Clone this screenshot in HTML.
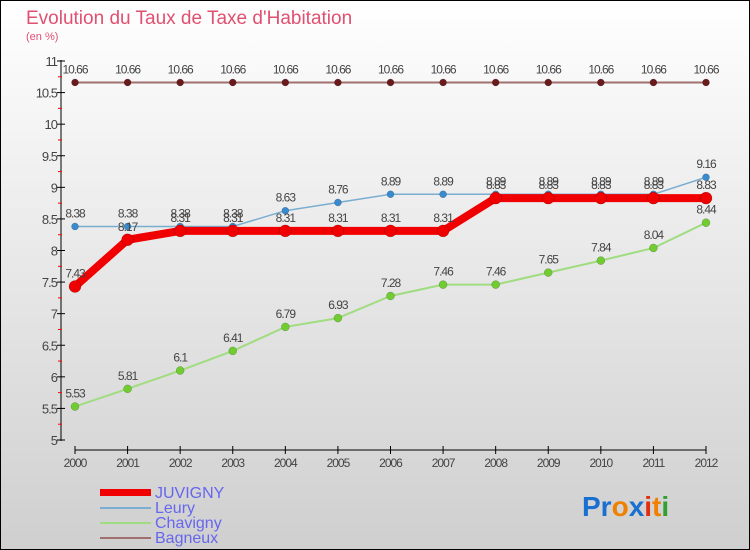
<!DOCTYPE html>
<html><head><meta charset="utf-8"><style>
body{margin:0}
#c{width:750px;height:550px;position:relative;overflow:hidden}
</style></head><body>
<div id="c">
<svg id="s" width="750" height="550" font-family="'Liberation Sans', sans-serif">
<defs><linearGradient id="bg" x1="0" y1="0" x2="0" y2="1"><stop offset="0" stop-color="#ffffff"/><stop offset="1" stop-color="#cfcfcf"/></linearGradient></defs>
<rect x="0.5" y="0.5" width="749" height="549" fill="url(#bg)" stroke="#000"/>
<text x="26" y="24" font-size="19" fill="#e05070">Evolution du Taux de Taxe d'Habitation</text>
<text x="26" y="40" font-size="11" fill="#e05070">(en %)</text>
<g id="axes"></g><g id="series"></g>
<g>
<rect x="100" y="489" width="51" height="7" fill="#f00000"/>
<text x="155" y="498" font-size="16" fill="#6666ee">JUVIGNY</text>
<rect x="100" y="507" width="51" height="2" fill="#7aaed0"/>
<text x="155" y="513" font-size="16" fill="#6666ee">Leury</text>
<rect x="100" y="522" width="51" height="2" fill="#a0dc80"/>
<text x="155" y="528" font-size="16" fill="#6666ee">Chavigny</text>
<rect x="100" y="537" width="51" height="2" fill="#a07070"/>
<text x="155" y="543" font-size="16" fill="#6666ee">Bagneux</text>
</g>
<text x="582" y="516" font-size="28" font-weight="bold"><tspan fill="#1a70d0">Pr</tspan><tspan fill="#f08000">o</tspan><tspan fill="#1a70d0">x</tspan><tspan fill="#e03010">i</tspan><tspan fill="#f08000">t</tspan><tspan fill="#30a030">i</tspan></text>
</svg></div>
<script>
const years=[2000,2001,2002,2003,2004,2005,2006,2007,2008,2009,2010,2011,2012];
const yTicks=[5,5.5,6,6.5,7,7.5,8,8.5,9,9.5,10,10.5,11];
const juvigny=[7.43,8.17,8.31,8.31,8.31,8.31,8.31,8.31,8.83,8.83,8.83,8.83,8.83];
const leury=[8.38,8.38,8.38,8.38,8.63,8.76,8.89,8.89,8.89,8.89,8.89,8.89,9.16];
const chavigny=[5.53,5.81,6.1,6.41,6.79,6.93,7.28,7.46,7.46,7.65,7.84,8.04,8.44];
const bagneux=[10.66,10.66,10.66,10.66,10.66,10.66,10.66,10.66,10.66,10.66,10.66,10.66,10.66];
const NS="http://www.w3.org/2000/svg";
const x=i=>75+i*(706-75)/(years.length-1);
const y=v=>440-(v-5)*(440-61)/6;
function mk(t,a,p){const e=document.createElementNS(NS,t);for(const k in a)e.setAttribute(k,a[k]);p.appendChild(e);return e;}
const ax=document.getElementById('axes');
let e=mk('line',{x1:61,y1:60,x2:61,y2:441,stroke:'#000'},ax);


e=mk('line',{x1:75,y1:450,x2:706,y2:450,stroke:'#000'},ax);


yTicks.forEach((v,i)=>{
  mk('line',{x1:57,y1:y(v),x2:65,y2:y(v),stroke:'#000'},ax);
  if(i<yTicks.length-1) mk('line',{x1:58,y1:y(v+0.25),x2:62,y2:y(v+0.25),stroke:'#f00'},ax);
  const t=mk('text',{x:57,y:y(v)+5,'text-anchor':'end','font-size':13,fill:'#444','letter-spacing':'-1'},ax);
  t.textContent=String(v);
  
  
});
years.forEach((yr,i)=>{
  mk('line',{x1:x(i),y1:446,x2:x(i),y2:454,stroke:'#000'},ax);
  const t=mk('text',{x:x(i),y:467,'text-anchor':'middle','font-size':12,fill:'#444','letter-spacing':'-1'},ax);
  t.textContent=yr;
  
  
});
const sg=document.getElementById('series');
function series(vals,name,color,w,r,dot,fontSize){
  const g=mk('g',{},sg);
  
  
  mk('polyline',{points:vals.map((v,i)=>x(i)+','+y(v)).join(' '),fill:'none',stroke:color,'stroke-width':w,'stroke-linejoin':'round'},g);
  vals.forEach((v,i)=>{
    const c=mk('circle',{cx:x(i),cy:y(v),r:r,fill:dot,stroke:'rgba(0,0,0,0.3)','stroke-width':0.5},g);
    
    
    const t=mk('text',{x:x(i),y:y(v)-9,'text-anchor':'middle','font-size':12,fill:'#444','letter-spacing':'-1'},g);
    t.textContent=String(v);
    
    
  });
}
series(bagneux,'bagneux','#a07070',2,3.5,'#6a1a1a');
series(chavigny,'chavigny','#a0dc80',2,4,'#70cc30');
series(leury,'leury','#7aaed0',1.5,3.5,'#3a8ad0');
series(juvigny,'juvigny','#f00000',8,6,'#f00000');
</script>
</body></html>
